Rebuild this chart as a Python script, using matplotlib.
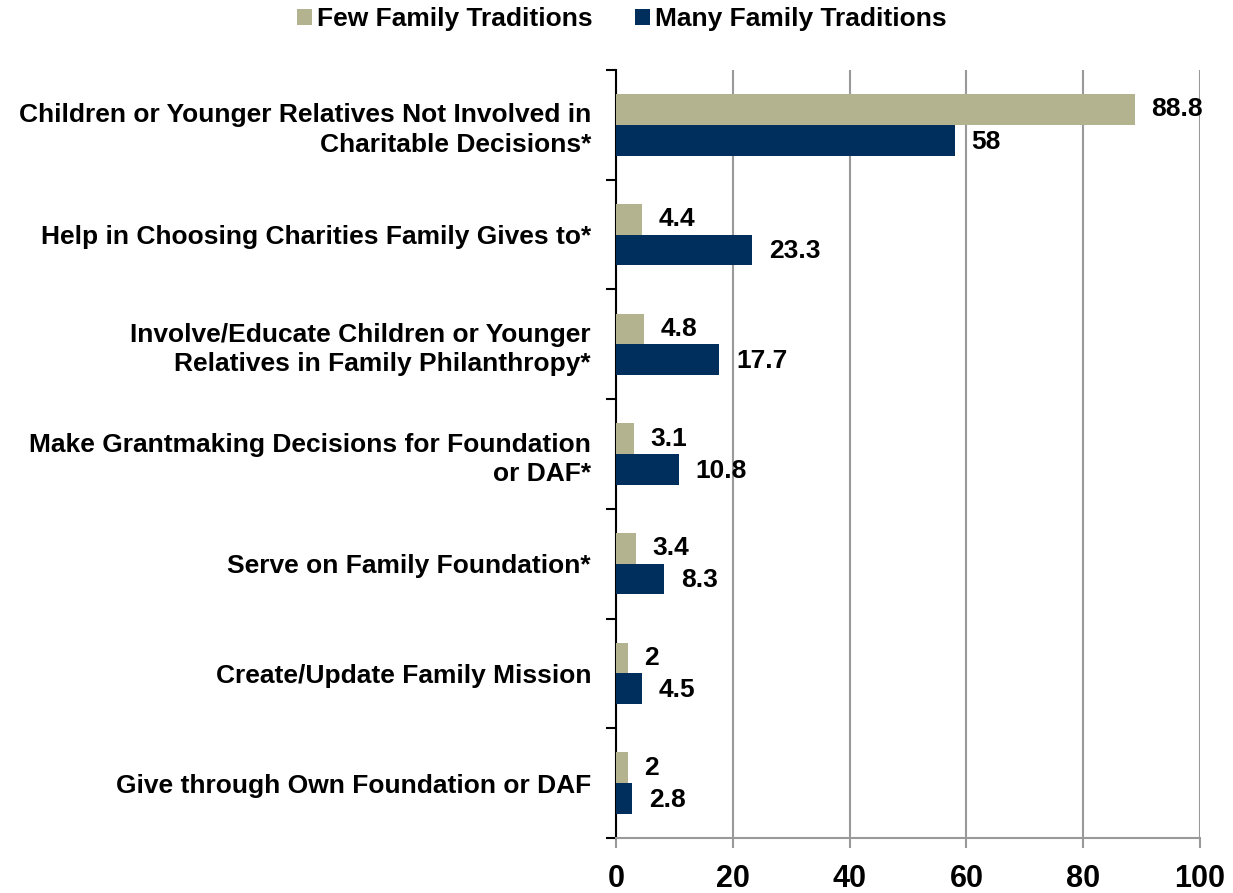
import numpy as np
import matplotlib.pyplot as plt

plt.rcParams['font.family'] = ['Liberation Sans', 'DejaVu Sans']
plt.rcParams['font.weight'] = 'bold'

categories = ['Children or Younger Relatives Not Involved in\nCharitable Decisions*',
              'Help in Choosing Charities Family Gives to*',
              'Involve/Educate Children or Younger\nRelatives in Family Philanthropy*',
              'Make Grantmaking Decisions for Foundation\nor DAF*',
              'Serve on Family Foundation*',
              'Create/Update Family Mission',
              'Give through Own Foundation or DAF']
few = [88.8, 4.4, 4.8, 3.1, 3.4, 2, 2]
many = [58, 23.3, 17.7, 10.8, 8.3, 4.5, 2.8]
few_labels = ['88.8', '4.4', '4.8', '3.1', '3.4', '2', '2']
many_labels = ['58', '23.3', '17.7', '10.8', '8.3', '4.5', '2.8']

fig = plt.figure(figsize=(12.33, 8.93), dpi=100)
ax = fig.add_axes([616/1233, 1-838/893, 584/1233, 768/893])

y = np.arange(len(categories))[::-1]  # top category first
h = 0.28
b1 = ax.barh(y + h/2, few, h, color='#b3b38f', label='Few Family Traditions', zorder=3)
b2 = ax.barh(y - h/2, many, h, color='#002e5d', label='Many Family Traditions', zorder=3)

for i in range(len(categories)):
    ax.annotate(few_labels[i], (few[i], y[i] + h/2), xytext=(12, 0), textcoords='offset points',
                va='center', ha='left', fontsize=19, fontweight='bold')
    ax.annotate(many_labels[i], (many[i], y[i] - h/2), xytext=(12, -1), textcoords='offset points',
                va='center', ha='left', fontsize=19, fontweight='bold')

ax.set_xlim(0, 100)
ax.set_ylim(-0.5, len(categories) - 0.5)
ax.set_xticks(np.arange(0, 101, 20))
ax.tick_params(axis='x', labelsize=22, length=7, color='#999999', pad=12, width=1.5)
ax.grid(axis='x', color='#999999', linewidth=1.5, zorder=0)

ax.set_yticks(np.arange(-0.5, len(categories), 1))
ax.set_yticklabels([])
ax.tick_params(axis='y', which='major', length=7, width=1.5, color='black')
ax.set_yticks(y, minor=True)
ax.set_yticklabels(categories, minor=True, fontsize=19, fontweight='bold', ha='right',
                   linespacing=1.28)
ax.tick_params(axis='y', which='minor', length=0, pad=18)

for s in ['top', 'right']:
    ax.spines[s].set_visible(False)
ax.spines['left'].set_color('black')
ax.spines['left'].set_linewidth(1.5)
ax.spines['bottom'].set_color('#999999')
ax.spines['bottom'].set_linewidth(1.5)

fig.legend(handles=[b1, b2], loc='center', bbox_to_anchor=(622/1233, 1-19/893), ncol=2,
           frameon=False, fontsize=19, handlelength=0.55, handleheight=0.55,
           handletextpad=0.2, columnspacing=1.6)

plt.savefig('out.png', dpi=100)
